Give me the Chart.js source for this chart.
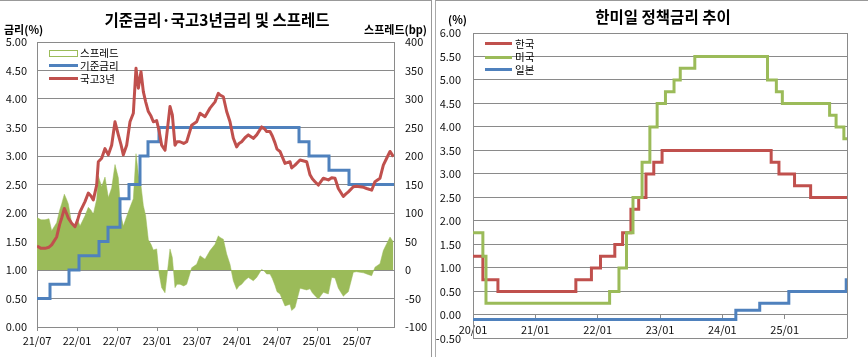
<!DOCTYPE html>
<html><head><meta charset="utf-8">
<script src="https://cdn.jsdelivr.net/npm/chart.js@4.4.0/dist/chart.umd.min.js"></script>
<style>
body{margin:0;background:#fff;width:868px;height:357px;overflow:hidden;position:relative;font-family:"Noto Sans CJK KR","Noto Sans",sans-serif;color:#000;}
.panel{position:absolute;top:0;height:357px;}
#lp{left:0;width:432px;}
#rp{left:432px;width:436px;}
canvas{position:absolute;left:0;top:0;}
.t{position:absolute;white-space:nowrap;line-height:1;}
.title{font-weight:bold;font-size:15.5px;transform:translate(-50%,-50%);}
.ax{font-weight:bold;font-size:11px;transform:translateY(-50%);}
.lg{font-size:10.5px;transform:translateY(-50%);}
.ln{position:absolute;height:3px;}
#frameL{position:absolute;left:0;top:0;width:431px;height:356px;border-top:1px solid #999;border-right:1px solid #999;}
#frameR{position:absolute;left:435px;top:0;width:432px;height:356px;border-left:1px solid #aaa;border-top:1px solid #999;}
</style></head>
<body>
<div id="frameL"></div><div id="frameR"></div>
<div class="panel" id="lp"><canvas id="cL" width="432" height="357"></canvas></div>
<div class="panel" id="rp"><canvas id="cR" width="436" height="357"></canvas></div>

<div class="t title" style="left:217px;top:20px;">기준금리·국고3년금리 및 스프레드</div>
<div class="t ax" style="left:4px;top:29px;">금리(%)</div>
<div class="t ax" style="right:441px;top:29px;">스프레드(bp)</div>
<div style="position:absolute;left:49px;top:50px;width:27px;height:5px;border:1px solid #9BBB59;background:#fff;"></div>
<div class="ln" style="left:49px;top:64px;width:29px;background:#4F81BD;"></div>
<div class="ln" style="left:49px;top:77px;width:29px;background:#C0504D;"></div>
<div class="t lg" style="left:80px;top:53px;">스프레드</div>
<div class="t lg" style="left:80px;top:65.5px;">기준금리</div>
<div class="t lg" style="left:80px;top:78.5px;">국고3년</div>

<div class="t title" style="left:663px;top:17px;">한미일 정책금리 추이</div>
<div class="t ax" style="left:448px;top:18.5px;">(%)</div>
<div class="ln" style="left:485px;top:42px;width:27px;background:#C0504D;"></div>
<div class="ln" style="left:485px;top:55.5px;width:27px;background:#9BBB59;"></div>
<div class="ln" style="left:485px;top:68px;width:27px;background:#4F81BD;"></div>
<div class="t lg" style="left:515px;top:43.5px;">한국</div>
<div class="t lg" style="left:515px;top:57px;">미국</div>
<div class="t lg" style="left:515px;top:69.5px;">일본</div>

<script>
// ---- Left chart data (x = months since 2021-07) ----
const leftTickMonths = [0,6,12,18,24,30,36,42,48];
const leftTickLabels = ['21/07','22/01','22/07','23/01','23/07','24/01','24/07','25/01','25/07'];
const bondMonths = [0,0.6,1.2,1.8,2.2,2.95,3.4,3.7,4.1,4.4,4.7,5.2,5.7,6.1,6.45,7.2,7.7,8.1,8.45,8.95,9.2,9.7,10.2,10.7,11.2,11.7,12.2,12.6,12.95,13.45,13.95,14.45,14.85,15.2,15.6,15.95,16.3,16.7,17.1,17.45,17.95,18.3,18.7,19.2,19.95,20.3,20.7,21.0,21.45,22.0,22.45,23.2,23.95,24.45,25.2,25.95,26.7,27.2,27.45,27.95,28.45,28.95,29.45,29.95,30.3,30.7,31.2,31.7,32.45,32.95,33.7,34.1,34.45,34.95,35.3,35.7,36.0,36.45,37.2,37.95,38.2,38.7,39.45,40.45,40.95,41.3,41.7,42.2,42.95,43.7,44.2,44.7,45.2,45.95,46.3,46.7,47.45,47.9,48.45,49.0,49.45,50.2,50.7,51.45,51.95,52.45,52.95,53.45];
const bond3y = [1.42,1.38,1.38,1.40,1.44,1.58,1.80,1.91,2.08,2.00,1.91,1.82,1.76,1.88,2.02,2.20,2.35,2.30,2.23,2.49,2.90,2.96,3.13,3.02,3.19,3.60,3.37,3.20,3.02,3.19,3.60,3.75,4.54,4.19,4.48,4.13,3.95,3.78,3.70,3.60,3.62,3.45,3.19,3.10,3.87,3.72,3.19,3.25,3.25,3.22,3.25,3.54,3.60,3.75,3.69,3.84,3.95,4.10,4.07,4.04,3.78,3.60,3.31,3.16,3.22,3.25,3.32,3.37,3.31,3.37,3.51,3.48,3.43,3.43,3.35,3.23,3.12,3.08,2.87,2.90,2.79,2.84,2.93,2.90,2.67,2.60,2.55,2.49,2.61,2.58,2.62,2.61,2.43,2.29,2.33,2.37,2.46,2.47,2.46,2.45,2.43,2.40,2.55,2.61,2.84,2.96,3.08,2.99];
const spreadBp = [92,88,88,90,69,83,105,116,133,125,116,82,76,88,77,95,110,105,98,124,165,146,163,127,144,185,162,95,77,94,110,125,204,169,148,113,95,53,45,35,37,-5,-31,-40,37,22,-31,-25,-25,-28,-25,4,10,25,19,34,45,60,57,54,28,10,-19,-34,-28,-25,-18,-13,-19,-13,1,-2,-7,-7,-15,-27,-38,-42,-63,-60,-71,-66,-32,-35,-33,-40,-45,-51,-39,-42,-13,-14,-32,-46,-42,-38,-4,-3,-4,-5,-7,-10,5,11,34,46,58,49];
const baseMonths = [0,1.95,4.8,6.3,9.3,10.65,12.45,13.8,15.45,16.65,18.3,39.3,40.8,43.8,46.8,53.55];
const baseRate = [0.50,0.75,1.00,1.25,1.50,1.75,2.25,2.50,3.00,3.25,3.50,3.25,3.00,2.75,2.50,2.50];

// ---- Right chart data (x = months since 2020-01) ----
const rightTickMonths = [0,12,24,36,48,60];
const rightTickLabels = ['20/01','21/01','22/01','23/01','24/01','25/01'];
const krMonths = [0,1.9,4.8,19.8,22.8,24.55,27.3,28.8,30.4,31.9,33.3,34.8,36.4,57.4,58.9,61.9,65,72];
const krRate = [1.25,0.75,0.50,0.75,1.00,1.25,1.50,1.75,2.25,2.50,3.00,3.25,3.50,3.25,3.00,2.75,2.50,2.50];
const usMonths = [0,1.9,2.5,26.3,28.1,29.55,30.8,32.55,34.05,35.45,37.05,38.7,39.9,42.7,56.7,58.4,59.55,68.65,69.9,71.4,72];
const usRate = [1.75,1.25,0.25,0.50,1.00,1.75,2.50,3.25,4.00,4.50,4.75,5.00,5.25,5.50,5.00,4.75,4.50,4.25,4.00,3.75,3.75];
const jpMonths = [0,50.6,55.2,60.8,71.85,72];
const jpRate = [-0.10,0.10,0.25,0.50,0.75,0.75];

const C_RED = '#C0504D', C_GREEN = '#9BBB59', C_BLUE = '#4F81BD', GRID = '#8a8a8a';
const FONT = {family:'"Noto Sans CJK KR","Noto Sans",sans-serif', size:11};
const pts = (xs, ys) => xs.map((x, i) => ({x, y: ys[i]}));
Chart.defaults.animation = false;
Chart.defaults.color = '#111';

new Chart(document.getElementById('cL'), {
  type: 'line',
  data: { datasets: [
    {label:'국고3년', data: pts(bondMonths, bond3y), yAxisID:'y', borderColor:C_RED, borderWidth:3, pointRadius:0, order:0, borderJoinStyle:'round'},
    {label:'기준금리', data: pts(baseMonths, baseRate), yAxisID:'y', borderColor:C_BLUE, borderWidth:3, pointRadius:0, stepped:true, order:1},
    {label:'스프레드', data: pts(bondMonths, spreadBp), yAxisID:'y2', borderColor:C_GREEN, backgroundColor:C_GREEN, borderWidth:0.5, pointRadius:0, fill:'origin', order:2}
  ]},
  options: {
    responsive:false, maintainAspectRatio:false,
    layout:{padding:{top:42, left:0, right:0, bottom:0}},
    plugins:{legend:{display:false}, tooltip:{enabled:false}},
    scales:{
      x:{type:'linear', min:0, max:53.55,
        afterBuildTicks:s=>{s.ticks = leftTickMonths.map(v=>({value:v}));},
        ticks:{callback:(v,i)=>leftTickLabels[i], font:FONT, padding:3, maxRotation:0, autoSkip:false},
        grid:{drawOnChartArea:false, tickLength:4, color:GRID},
        border:{display:true, color:GRID},
        afterFit:s=>{s.height=30;}},
      y:{position:'left', min:0, max:5,
        ticks:{stepSize:0.5, callback:v=>v.toFixed(2), font:FONT, padding:10},
        grid:{color:GRID, drawTicks:false},
        border:{display:true, color:GRID},
        afterFit:s=>{s.width=37;}},
      y2:{position:'right', min:-100, max:400,
        ticks:{stepSize:50, font:FONT, padding:11},
        grid:{drawOnChartArea:false, drawTicks:false},
        border:{display:true, color:GRID},
        afterFit:s=>{s.width=38;}}
    }
  }
});

const rightEdge = {id:'rightEdge', beforeDatasetsDraw(chart){
  const {ctx, chartArea:a} = chart; ctx.save(); ctx.strokeStyle = GRID; ctx.lineWidth = 1;
  ctx.beginPath(); ctx.moveTo(Math.round(a.right)+0.5, a.top); ctx.lineTo(Math.round(a.right)+0.5, a.bottom); ctx.stroke(); ctx.restore();
}};

new Chart(document.getElementById('cR'), {
  type: 'line',
  data: { datasets: [
    {label:'한국', data: pts(krMonths, krRate), borderColor:C_RED, borderWidth:3, pointRadius:0, stepped:true, order:1},
    {label:'미국', data: pts(usMonths, usRate), borderColor:C_GREEN, borderWidth:3, pointRadius:0, stepped:true, order:0},
    {label:'일본', data: pts(jpMonths, jpRate), borderColor:C_BLUE, borderWidth:3, pointRadius:0, stepped:true, order:2}
  ]},
  options: {
    responsive:false, maintainAspectRatio:false,
    layout:{padding:{top:33, left:0, right:21, bottom:17}},
    plugins:{legend:{display:false}, tooltip:{enabled:false}},
    scales:{
      x:{type:'linear', min:0, max:72, position:{y:0},
        afterBuildTicks:s=>{s.ticks = rightTickMonths.map(v=>({value:v}));},
        ticks:{callback:(v,i)=>rightTickLabels[i], font:FONT, padding:4, maxRotation:0, autoSkip:false},
        grid:{drawOnChartArea:false, tickLength:4, color:GRID},
        border:{display:true, color:GRID}},
      y:{position:'left', min:-0.5, max:6,
        ticks:{stepSize:0.5, callback:v=>v.toFixed(2), font:FONT, padding:12},
        grid:{color:GRID, drawTicks:false},
        border:{display:true, color:GRID},
        afterFit:s=>{s.width=41;}}
    }
  },
  plugins:[rightEdge]
});
</script>
</body></html>
